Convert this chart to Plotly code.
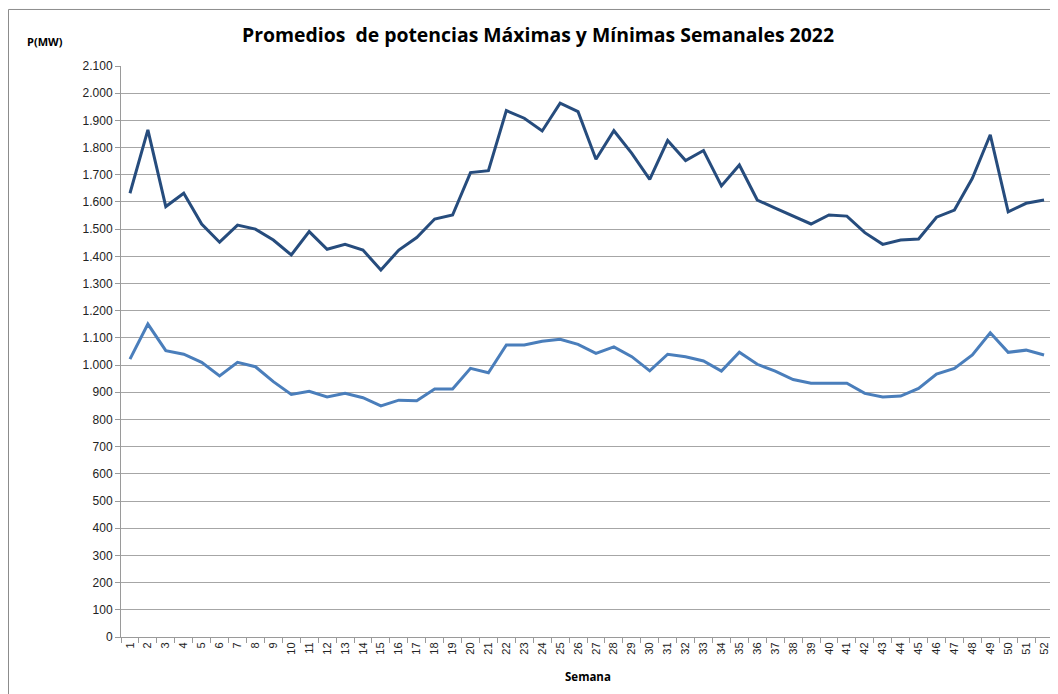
import plotly.graph_objects as go

weeks = list(range(1, 53))
week_labels = [str(w) for w in weeks]

max_mw = [1632, 1865, 1583, 1632, 1519, 1452, 1515, 1500, 1460, 1405,
          1491, 1426, 1444, 1423, 1350, 1423, 1469, 1537, 1552, 1708,
          1715, 1936, 1908, 1861, 1963, 1932, 1757, 1862, 1779, 1683,
          1826, 1752, 1789, 1659, 1736, 1607, 1577, 1548, 1519, 1552,
          1548, 1487, 1444, 1460, 1464, 1544, 1570, 1687, 1847, 1564,
          1595, 1607]

min_mw = [1022, 1151, 1053, 1040, 1010, 960, 1010, 994, 939, 892,
          904, 883, 896, 880, 850, 871, 869, 912, 912, 988,
          972, 1074, 1074, 1088, 1095, 1076, 1043, 1067, 1031, 979,
          1040, 1031, 1015, 978, 1047, 1003, 978, 947, 933, 933,
          933, 896, 883, 886, 914, 967, 988, 1037, 1119, 1047,
          1055, 1037]

y_ticks = list(range(0, 2101, 100))
y_tick_labels = [f"{v:,}".replace(",", ".") for v in y_ticks]

title_text = "Promedios  de potencias Máximas y Mínimas Semanales 2022"
y_title = "P(MW)"
x_title = "Semana"

fig = go.Figure()
fig.add_trace(go.Scatter(x=weeks, y=max_mw, mode="lines", name="Máximas",
                         line=dict(color="#264C7D", width=3)))
fig.add_trace(go.Scatter(x=weeks, y=min_mw, mode="lines", name="Mínimas",
                         line=dict(color="#4A7EBB", width=3)))

# page has an 8px body margin; work in page pixels and convert
OFF = 8
W, H = 1058 - OFF, 694 - OFF
L = 121 - OFF
T = 66 - OFF
R = 1058 - 1053
B = 694 - 636.7
pw = W - L - R
ph = H - T - B

def px_x(px):
    return (px - OFF - L) / pw

def px_y(py):
    return (694 - B - py) / ph

fig.update_layout(
    width=W, height=H,
    margin=dict(l=L, r=R, t=T, b=B, pad=0),
    paper_bgcolor="white", plot_bgcolor="white",
    showlegend=False,
    font=dict(family="Liberation Sans, Arial, sans-serif", color="#222"),
    xaxis=dict(
        range=[0.5, 52.5], tickmode="array", tickvals=weeks, ticktext=week_labels,
        tickangle=-90, ticks="", showgrid=False, zeroline=False,
        showline=True, linecolor="#9a9a9a", linewidth=1,
        tickfont=dict(size=11, color="#222"),
        minor=dict(tickmode="array", tickvals=[w - 0.5 for w in weeks] + [52.5],
                   ticks="outside", ticklen=5, tickcolor="#9a9a9a", showgrid=False),
    ),
    yaxis=dict(
        range=[0, 2100], tickmode="array", tickvals=y_ticks, ticktext=y_tick_labels,
        ticks="outside", ticklen=5, tickcolor="#9a9a9a",
        showgrid=True, gridcolor="#a6a6a6", gridwidth=1, zeroline=False,
        showline=True, linecolor="#9a9a9a", linewidth=1,
        tickfont=dict(size=12, color="#222"),
    ),
    annotations=[
        dict(text="<b>" + title_text + "</b>", xref="paper", yref="paper",
             x=px_x(538), y=px_y(35), xanchor="center", yanchor="middle",
             showarrow=False, font=dict(family="Open Sans, sans-serif", size=19.4, color="#000")),
        dict(text="<b>" + y_title + "</b>", xref="paper", yref="paper",
             x=px_x(45), y=px_y(42), xanchor="center", yanchor="middle",
             showarrow=False, font=dict(family="Open Sans, sans-serif", size=11, color="#000")),
        dict(text="<b>" + x_title + "</b>", xref="paper", yref="paper",
             x=px_x(588), y=px_y(676), xanchor="center", yanchor="middle",
             showarrow=False, font=dict(family="Open Sans, sans-serif", size=11.5, color="#000")),
    ],
    shapes=[
        dict(type="line", xref="paper", yref="paper", x0=px_x(8.5), x1=px_x(1070),
             y0=px_y(9.5), y1=px_y(9.5), line=dict(color="#8c8c8c", width=1)),
        dict(type="line", xref="paper", yref="paper", x0=px_x(8.5), x1=px_x(8.5),
             y0=px_y(9.5), y1=px_y(710), line=dict(color="#8c8c8c", width=1)),
    ],
)

fig.write_html("out.html")
